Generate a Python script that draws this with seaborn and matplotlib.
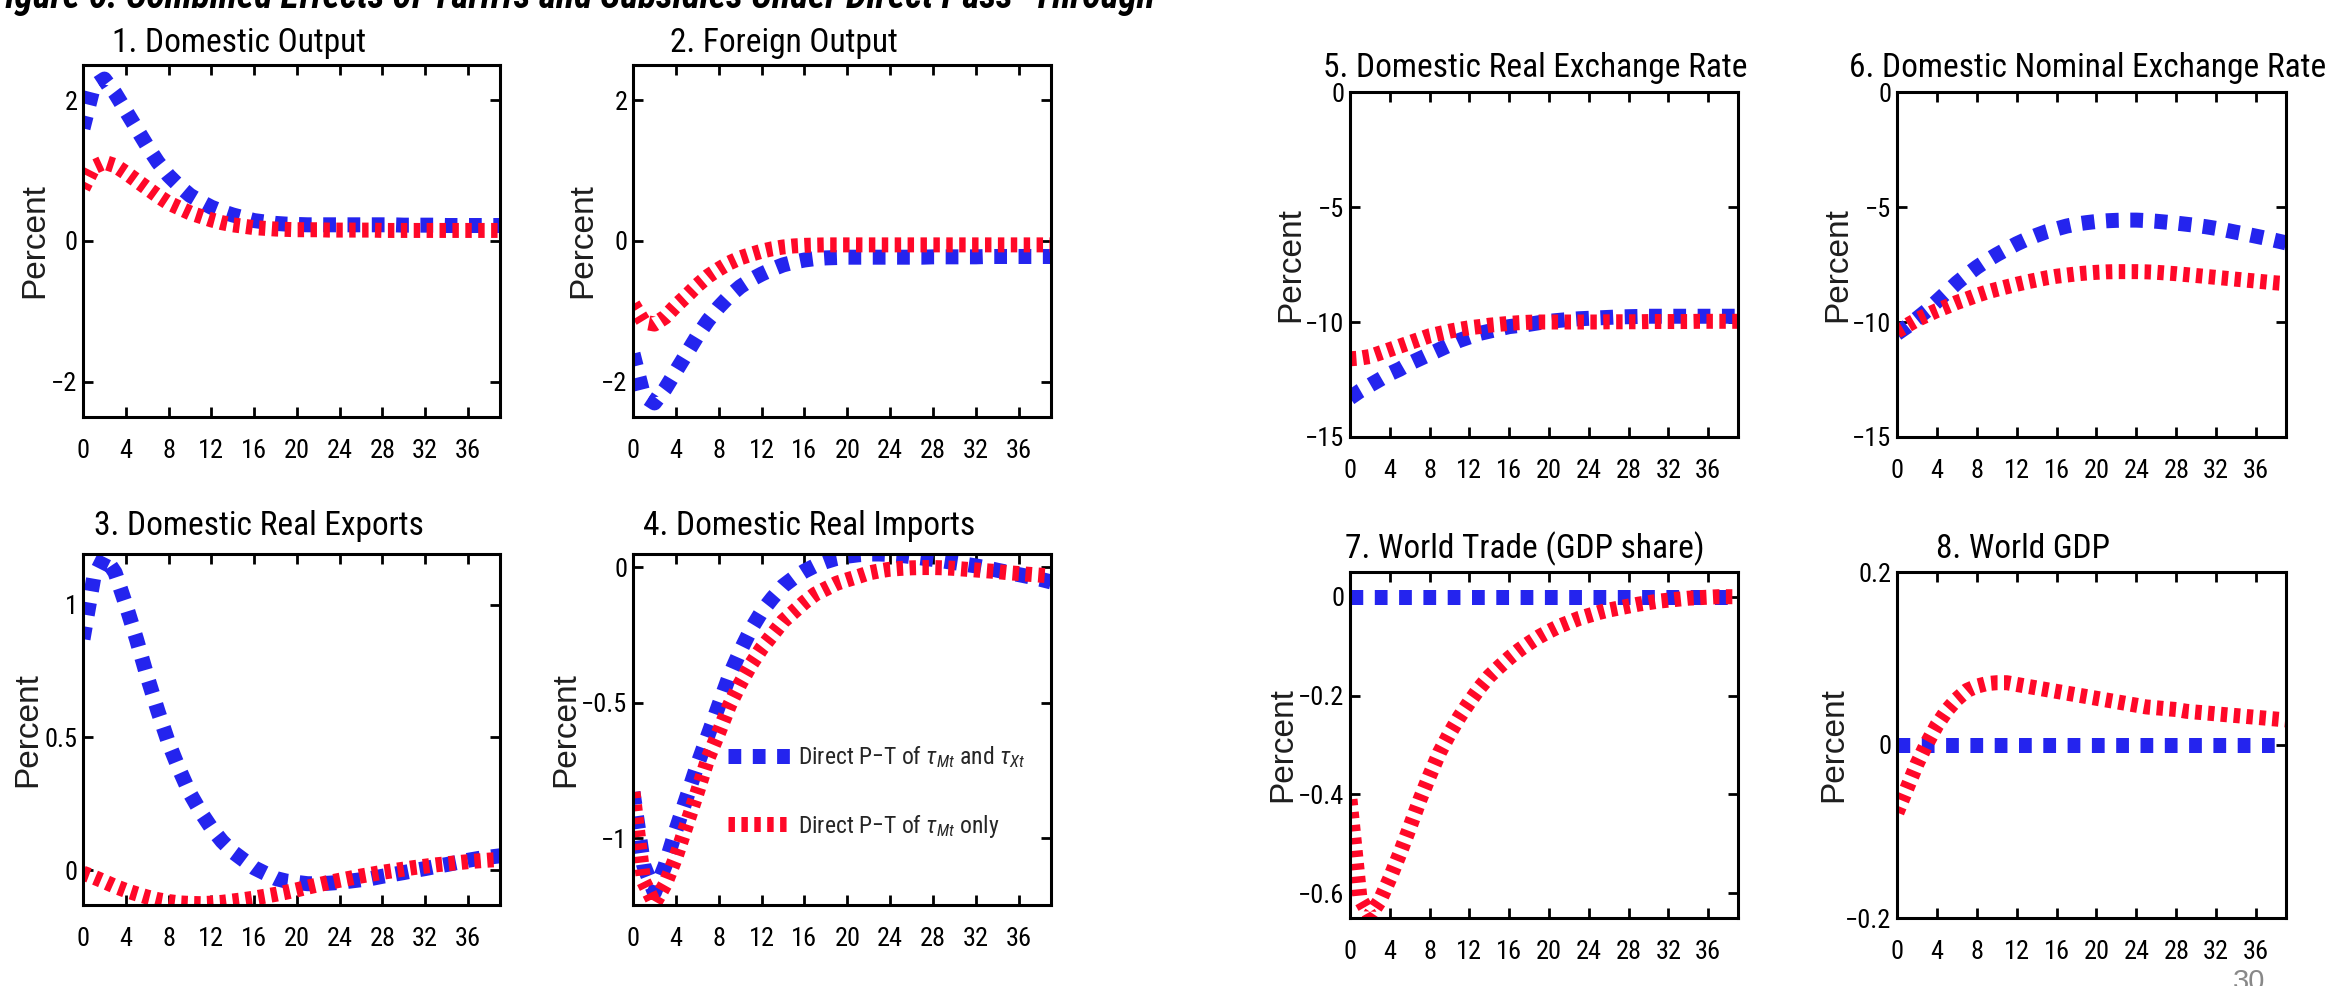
import numpy as np
import pandas as pd
import matplotlib
matplotlib.use("Agg")
import matplotlib.pyplot as plt
from matplotlib import font_manager as fm
import seaborn as sns

# ---------------------------------------------------------------- data
quarters = list(range(40))

case_labels = ["both", "mt_only"]
legend_labels = [r"Direct P$-$T of $\tau_{Mt}$ and $\tau_{Xt}$",
                 r"Direct P$-$T of $\tau_{Mt}$ only"]

titles = ["1. Domestic Output", "2. Foreign Output",
          "3. Domestic Real Exports", "4. Domestic Real Imports",
          "5. Domestic Real Exchange Rate", "6. Domestic Nominal Exchange Rate",
          "7. World Trade (GDP share)", "8. World GDP"]

x_ticks = [0, 4, 8, 12, 16, 20, 24, 28, 32, 36]

y_ticks = [[-2, 0, 2], [-2, 0, 2], [0, 0.5, 1], [-1, -0.5, 0],
           [-15, -10, -5, 0], [-15, -10, -5, 0],
           [-0.6, -0.4, -0.2, 0], [-0.2, 0, 0.2]]
y_tick_labels = [["\u22122", "0", "2"], ["\u22122", "0", "2"],
                 ["0", "0.5", "1"], ["\u22121", "\u22120.5", "0"],
                 ["\u221215", "\u221210", "\u22125", "0"],
                 ["\u221215", "\u221210", "\u22125", "0"],
                 ["\u22120.6", "\u22120.4", "\u22120.2", "0"],
                 ["\u22120.2", "0", "0.2"]]
y_limits = [(-2.5, 2.5), (-2.5, 2.5), (-0.13, 1.19), (-1.246, 0.048),
            (-15, 0), (-15, 0), (-0.65, 0.05), (-0.2, 0.2)]

dom_output_both = [1.60, 2.20, 2.30, 2.10, 1.85, 1.60, 1.35, 1.12, 0.93, 0.78,
                   0.65, 0.56, 0.48, 0.42, 0.37, 0.33, 0.29, 0.27, 0.25, 0.24,
                   0.235, 0.23, 0.23, 0.23, 0.23, 0.23, 0.23, 0.23, 0.23, 0.23,
                   0.225, 0.225, 0.225, 0.225, 0.22, 0.22, 0.22, 0.22, 0.22, 0.22]
dom_output_mt = [0.75, 1.05, 1.12, 1.07, 0.97, 0.86, 0.75, 0.64, 0.54, 0.47,
                 0.40, 0.35, 0.30, 0.26, 0.23, 0.21, 0.19, 0.18, 0.17, 0.165,
                 0.16, 0.16, 0.16, 0.155, 0.155, 0.155, 0.155, 0.155, 0.15, 0.15,
                 0.15, 0.15, 0.15, 0.15, 0.15, 0.15, 0.15, 0.15, 0.15, 0.15]

for_output_both = [-1.60, -2.20, -2.30, -2.10, -1.85, -1.60, -1.35, -1.13, -0.94, -0.78,
                   -0.65, -0.55, -0.47, -0.40, -0.34, -0.30, -0.27, -0.25, -0.24, -0.235,
                   -0.23, -0.23, -0.23, -0.23, -0.23, -0.23, -0.23, -0.23, -0.225, -0.225,
                   -0.225, -0.225, -0.225, -0.22, -0.22, -0.22, -0.22, -0.22, -0.22, -0.22]
for_output_mt = [-0.90, -1.15, -1.18, -1.08, -0.92, -0.78, -0.63, -0.50, -0.40, -0.31,
                 -0.24, -0.19, -0.145, -0.11, -0.085, -0.07, -0.062, -0.058, -0.055, -0.055,
                 -0.055, -0.055, -0.055, -0.055, -0.055, -0.055, -0.055, -0.055, -0.055, -0.055,
                 -0.055, -0.055, -0.055, -0.055, -0.055, -0.055, -0.055, -0.055, -0.055, -0.055]

exports_both = [0.87, 1.10, 1.18, 1.12, 1.00, 0.87, 0.73, 0.60, 0.48, 0.38,
                0.29, 0.22, 0.16, 0.11, 0.07, 0.04, 0.01, -0.01, -0.03, -0.04,
                -0.045, -0.05, -0.05, -0.048, -0.045, -0.04, -0.035, -0.03, -0.022, -0.015,
                -0.008, 0.0, 0.007, 0.015, 0.022, 0.03, 0.038, 0.045, 0.05, 0.055]
exports_mt = [-0.01, -0.025, -0.042, -0.06, -0.075, -0.088, -0.10, -0.11, -0.117, -0.122,
              -0.124, -0.125, -0.123, -0.12, -0.115, -0.11, -0.104, -0.097, -0.09, -0.082,
              -0.073, -0.063, -0.054, -0.045, -0.037, -0.029, -0.021, -0.014, -0.007, -0.001,
              0.005, 0.011, 0.016, 0.021, 0.025, 0.029, 0.033, 0.036, 0.039, 0.041]

imports_both = [-0.83, -1.10, -1.20, -1.10, -0.97, -0.85, -0.73, -0.62, -0.51, -0.40,
                -0.31, -0.23, -0.165, -0.115, -0.07, -0.04, -0.015, 0.005, 0.02, 0.032,
                0.04, 0.045, 0.048, 0.048, 0.046, 0.043, 0.038, 0.033, 0.028, 0.022,
                0.016, 0.01, 0.004, -0.003, -0.012, -0.02, -0.028, -0.036, -0.045, -0.055]
imports_mt = [-0.83, -1.16, -1.24, -1.17, -1.07, -0.95, -0.83, -0.705, -0.61, -0.51,
              -0.43, -0.36, -0.30, -0.25, -0.20, -0.165, -0.13, -0.10, -0.08, -0.06,
              -0.047, -0.035, -0.022, -0.014, -0.008, -0.005, -0.003, -0.002, -0.002, -0.003,
              -0.005, -0.008, -0.011, -0.014, -0.017, -0.021, -0.024, -0.027, -0.03, -0.033]

rer_both = [-13.3, -13.0, -12.75, -12.5, -12.25, -12.05, -11.8, -11.6, -11.4, -11.2,
            -11.0, -10.8, -10.65, -10.5, -10.4, -10.3, -10.2, -10.15, -10.1, -10.03,
            -9.97, -9.93, -9.89, -9.86, -9.84, -9.82, -9.8, -9.78, -9.77, -9.76,
            -9.75, -9.75, -9.75, -9.75, -9.75, -9.75, -9.75, -9.75, -9.75, -9.75]
rer_mt = [-11.6, -11.57, -11.5, -11.35, -11.2, -11.05, -10.9, -10.75, -10.6, -10.5,
          -10.4, -10.32, -10.25, -10.2, -10.14, -10.1, -10.06, -10.03, -10.01, -10.0,
          -10.0, -10.0, -10.0, -10.0, -10.0, -10.0, -9.99, -9.99, -9.99, -9.99,
          -9.98, -9.98, -9.98, -9.98, -9.98, -9.97, -9.97, -9.97, -9.97, -9.97]

ner_both = [-10.5, -10.2, -9.85, -9.5, -9.1, -8.7, -8.3, -7.95, -7.62, -7.33,
            -7.07, -6.83, -6.6, -6.4, -6.23, -6.07, -5.95, -5.83, -5.74, -5.68,
            -5.63, -5.6, -5.58, -5.57, -5.57, -5.59, -5.62, -5.66, -5.7, -5.75,
            -5.8, -5.86, -5.93, -6.01, -6.1, -6.18, -6.27, -6.36, -6.46, -6.56]
ner_mt = [-10.4, -10.15, -9.9, -9.7, -9.5, -9.33, -9.15, -9.0, -8.84, -8.7,
          -8.58, -8.47, -8.36, -8.26, -8.17, -8.08, -8.01, -7.96, -7.91, -7.87,
          -7.84, -7.82, -7.81, -7.81, -7.81, -7.82, -7.84, -7.87, -7.9, -7.94,
          -7.98, -8.02, -8.06, -8.1, -8.14, -8.18, -8.22, -8.26, -8.3, -8.33]

trade_both = [0.0] * 40
trade_mt = [-0.41, -0.61, -0.645, -0.615, -0.57, -0.52, -0.467, -0.412, -0.362, -0.315,
            -0.277, -0.243, -0.213, -0.185, -0.161, -0.142, -0.124, -0.108, -0.094, -0.081,
            -0.07, -0.06, -0.052, -0.044, -0.038, -0.032, -0.027, -0.023, -0.019, -0.015,
            -0.012, -0.009, -0.007, -0.005, -0.003, -0.002, -0.001, 0.0, 0.0, 0.0]

gdp_both = [0.0] * 40
gdp_mt = [-0.078, -0.05, -0.022, 0.002, 0.023, 0.04, 0.053, 0.063, 0.068, 0.071,
          0.072, 0.072, 0.07, 0.068, 0.066, 0.064, 0.062, 0.06, 0.058, 0.056,
          0.054, 0.052, 0.05, 0.048, 0.046, 0.044, 0.043, 0.042, 0.041, 0.039,
          0.038, 0.037, 0.036, 0.035, 0.034, 0.033, 0.032, 0.031, 0.03, 0.029]

panel_series = [(dom_output_both, dom_output_mt), (for_output_both, for_output_mt),
                (exports_both, exports_mt), (imports_both, imports_mt),
                (rer_both, rer_mt), (ner_both, ner_mt),
                (trade_both, trade_mt), (gdp_both, gdp_mt)]

# ---------------------------------------------------------------- style
sns.set_style("ticks")

available = {f.name for f in fm.fontManager.ttflist}
narrow_family = next((n for n in ["Liberation Sans Narrow", "Roboto Condensed",
                                  "Open Sans Condensed", "DejaVu Sans"]
                      if n in available), "DejaVu Sans")
narrow_stretch = "condensed" if narrow_family == "DejaVu Sans" else "normal"
plain_family = "Liberation Sans" if "Liberation Sans" in available else "DejaVu Sans"

plt.rcParams["font.family"] = [narrow_family, "DejaVu Sans"]
plt.rcParams["mathtext.fontset"] = "custom"
plt.rcParams["mathtext.rm"] = narrow_family
plt.rcParams["mathtext.it"] = narrow_family + ":italic"
plt.rcParams["axes.unicode_minus"] = True

palette = {"both": "#2424EE", "mt_only": "#FF0828"}
dash_styles = {"both": (0.85, 0.77), "mt_only": (0.43, 0.43)}

W, H = 2343, 986
fig = plt.figure(figsize=(W / 100, H / 100), dpi=100)
fig.patch.set_facecolor("white")

# axes boxes in pixels: left, right, top, bottom
boxes = [(83, 500, 65, 417), (633, 1051, 65, 417),
         (83, 500, 554, 905), (633, 1051, 554, 905),
         (1350, 1738, 92, 437), (1897, 2286, 92, 437),
         (1350, 1738, 572, 918), (1897, 2286, 572, 918)]
title_centers = [239, 784, 259, 809, 1535, 2088, 1525, 2023]
title_gaps = [13, 13, 19, 19, 15, 15, 14, 14]
ylabel_offsets = [53, 55, 60, 72, 64, 64, 72, 68]

axes = []
for i, (l, r, t, b) in enumerate(boxes):
    ax = fig.add_axes([l / W, 1 - b / H, (r - l) / W, (b - t) / H])
    axes.append(ax)
    both, mt = panel_series[i]
    df = pd.DataFrame({
        "quarter": quarters * 2,
        "value": list(both) + list(mt),
        "case": ["both"] * len(both) + ["mt_only"] * len(mt),
    })
    sns.lineplot(data=df, x="quarter", y="value", hue="case", style="case",
                 hue_order=case_labels, style_order=case_labels,
                 palette=palette, dashes=dash_styles, linewidth=10.8,
                 errorbar=None, legend=False, ax=ax)

    ax.set_xlim(0, 39)
    ax.set_ylim(*y_limits[i])
    ax.set_xticks(x_ticks)
    ax.set_xticklabels([str(v) for v in x_ticks])
    ax.set_yticks(y_ticks[i])
    ax.set_yticklabels(y_tick_labels[i])
    ax.set_xlabel("")
    for side in ["top", "bottom", "left", "right"]:
        ax.spines[side].set_visible(True)
        ax.spines[side].set_linewidth(2.2)
        ax.spines[side].set_color("black")
    ax.tick_params(axis="both", direction="in", length=7, width=2,
                   top=True, right=True, labelsize=19, colors="black")
    ax.tick_params(axis="x", pad=16)
    ax.tick_params(axis="y", pad=4)
    for lab in ax.get_xticklabels() + ax.get_yticklabels():
        lab.set_fontstretch(narrow_stretch)

    width_px = r - l
    height_px = b - t
    ax.set_title(titles[i], x=(title_centers[i] - l) / width_px,
                 y=1 + title_gaps[i] / height_px, pad=0,
                 fontsize=24, family=[narrow_family, "DejaVu Sans"],
                 fontstretch=narrow_stretch, color="black")
    ax.set_ylabel("Percent", fontsize=24, family=plain_family, color="#1e1e1e")
    ax.yaxis.set_label_coords(-(ylabel_offsets[i] - 20) / width_px, 0.5)

# legend in the imports panel
ax4 = axes[3]
leg = ax4.legend(handles=ax4.lines[:2], labels=legend_labels,
                 loc="center left", bbox_to_anchor=(0.227, 0.322),
                 frameon=False, borderaxespad=0, borderpad=0,
                 handlelength=2.7, handletextpad=0.25, labelspacing=1.8,
                 prop={"family": narrow_family, "size": 17, "stretch": narrow_stretch})
leg.set_zorder(5)

# running header (its upper part falls above the page) and page number
fig.text(-12 / W, 1 - 8 / H,
         "Figure 6: Combined Effects of Tariffs and Subsidies Under Direct Pass\u2013Through",
         ha="left", va="baseline", fontsize=27, fontweight="bold", fontstyle="italic",
         family=[narrow_family, "DejaVu Sans"], color="black")
fig.text(2249 / W, 1 - 968 / H, "30", ha="center", va="top", fontsize=21,
         family=plain_family, color="#888888")

fig.savefig("out.png", dpi=100, facecolor="white")
